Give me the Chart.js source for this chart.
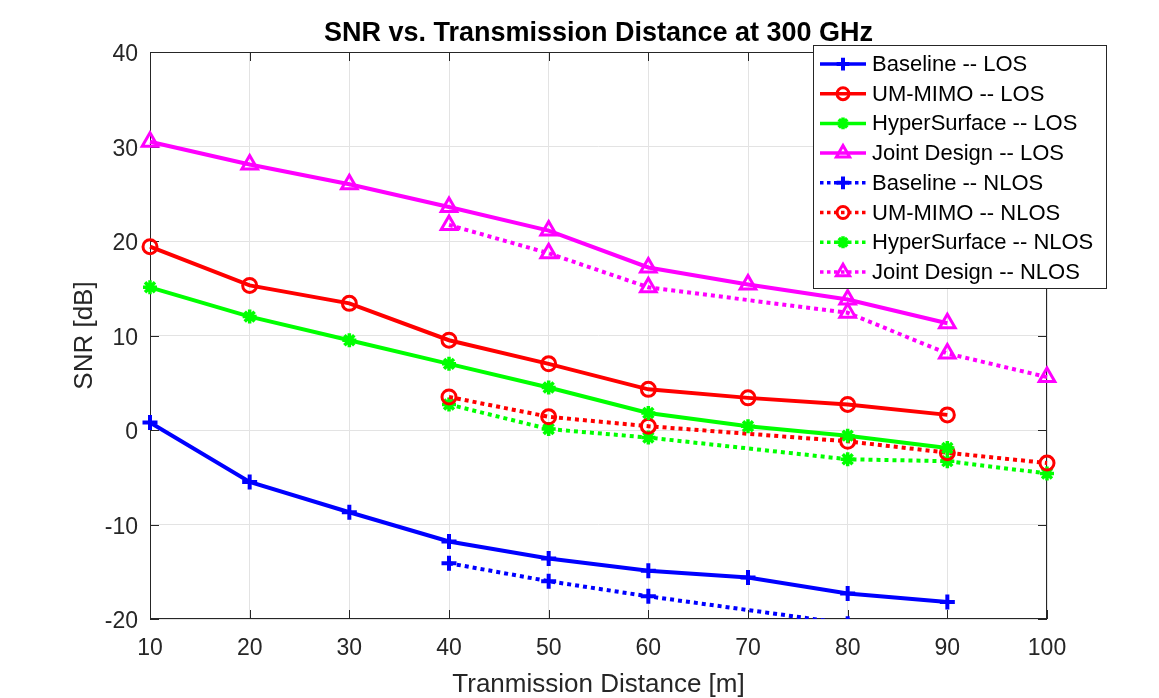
<!DOCTYPE html>
<html>
<head>
<meta charset="utf-8">
<script src="https://cdn.jsdelivr.net/npm/chart.js@4/dist/chart.umd.min.js"></script>
<style>
    body { margin: 0; background: #fff; }
    #wrap { width: 1159px; height: 698px; }
</style>
</head>
<body>
<div id="wrap"><canvas id="snrChart" width="1159" height="698"></canvas></div>
<script>
// distances [m]
const distLOS = [10, 20, 30, 40, 50, 60, 70, 80, 90];
const distNLOS = [40, 50, 60, 80, 90, 100];

// SNR [dB]
const baselineLOS = [0.8, -5.5, -8.7, -11.8, -13.6, -14.9, -15.6, -17.3, -18.2];
const umMimoLOS = [19.4, 15.3, 13.4, 9.5, 7.0, 4.3, 3.4, 2.7, 1.6];
const hyperLOS = [15.1, 12.0, 9.5, 7.0, 4.5, 1.8, 0.4, -0.6, -1.9];
const jointLOS = [30.5, 28.1, 26.0, 23.6, 21.1, 17.2, 15.4, 13.8, 11.3];

const baselineNLOS = [-14.1, -16.0, -17.6, -20.5, -21.6, -22.7];
const umMimoNLOS = [3.5, 1.4, 0.4, -1.2, -2.4, -3.5];
const hyperNLOS = [2.7, 0.1, -0.8, -3.1, -3.3, -4.6];
const jointNLOS = [21.7, 18.7, 15.1, 12.4, 8.1, 5.6];

const xTicks = [10, 20, 30, 40, 50, 60, 70, 80, 90, 100];
const yTicks = [-20, -10, 0, 10, 20, 30, 40];

const FONT = "'Liberation Sans', Arial, Helvetica, sans-serif";
const AXIS_COLOR = "#262626";

const schemes = [
    { name: "Baseline", color: "#0000ff", marker: "cross", radius: 7.5, bw: 4 },
    { name: "UM-MIMO", color: "#ff0000", marker: "circle", radius: 7, bw: 3 },
    { name: "HyperSurface", color: "#00ff00", marker: "star", radius: 7, bw: 3.5 },
    { name: "Joint Design", color: "#ff00ff", marker: "triangle", radius: 9, bw: 3 }
];

function toPoints(xs, ys) {
    return xs.map((x, i) => ({ x: x, y: ys[i] }));
}

function makeDataset(scheme, xs, ys, dotted) {
    return {
        label: scheme.name + (dotted ? " -- NLOS" : " -- LOS"),
        data: toPoints(xs, ys),
        borderColor: scheme.color,
        borderWidth: 4,
        borderDash: dotted ? [4, 4] : [],
        borderCapStyle: "butt",
        pointStyle: scheme.marker,
        pointRadius: scheme.radius,
        pointBorderWidth: scheme.bw,
        pointBorderColor: scheme.color,
        pointBackgroundColor: "rgba(0,0,0,0)",
        pointHoverRadius: scheme.radius,
        tension: 0,
        clip: { left: 15, right: 15, top: 15, bottom: 0 }
    };
}

const losSeries = [baselineLOS, umMimoLOS, hyperLOS, jointLOS];
const nlosSeries = [baselineNLOS, umMimoNLOS, hyperNLOS, jointNLOS];

const datasets = [];
schemes.forEach((s, i) => datasets.push(makeDataset(s, distLOS, losSeries[i], false)));
schemes.forEach((s, i) => datasets.push(makeDataset(s, distNLOS, nlosSeries[i], true)));

// simple marker painter for the legend
function drawMarker(ctx, style, x, y, r) {
    ctx.beginPath();
    if (style === "circle") {
        ctx.arc(x, y, r, 0, Math.PI * 2);
    } else if (style === "triangle") {
        for (let k = 0; k < 3; k++) {
            const a = k * 2 * Math.PI / 3;
            const px = x + Math.sin(a) * r, py = y - Math.cos(a) * r;
            k === 0 ? ctx.moveTo(px, py) : ctx.lineTo(px, py);
        }
        ctx.closePath();
    } else {
        ctx.moveTo(x - r, y); ctx.lineTo(x + r, y);
        ctx.moveTo(x, y - r); ctx.lineTo(x, y + r);
        if (style === "star") {
            const d = r * Math.SQRT1_2;
            ctx.moveTo(x - d, y - d); ctx.lineTo(x + d, y + d);
            ctx.moveTo(x - d, y + d); ctx.lineTo(x + d, y - d);
        }
    }
    ctx.stroke();
}

const frameBox = {
    id: "frameBox",
    beforeDatasetsDraw(chart) {
        const { ctx, chartArea: a, scales } = chart;
        ctx.save();
        ctx.strokeStyle = AXIS_COLOR;
        ctx.lineWidth = 1;
        ctx.strokeRect(a.left + 0.5, a.top + 0.5, a.right - a.left - 1, a.bottom - a.top - 1);
        const tl = 9;
        ctx.beginPath();
        xTicks.forEach(t => {
            const px = Math.round(scales.x.getPixelForValue(t)) + 0.5;
            ctx.moveTo(px, a.bottom); ctx.lineTo(px, a.bottom - tl);
            ctx.moveTo(px, a.top); ctx.lineTo(px, a.top + tl);
        });
        yTicks.forEach(t => {
            const py = Math.round(scales.y.getPixelForValue(t)) + 0.5;
            ctx.moveTo(a.left, py); ctx.lineTo(a.left + tl, py);
            ctx.moveTo(a.right, py); ctx.lineTo(a.right - tl, py);
        });
        ctx.stroke();
        ctx.restore();
    },
    afterDraw(chart) {
        const { ctx, chartArea: a } = chart;
        ctx.save();
        // title
        ctx.fillStyle = "#000";
        ctx.font = "bold 27px " + FONT;
        ctx.textAlign = "center";
        ctx.textBaseline = "middle";
        ctx.fillText("SNR vs. Transmission Distance at 300 GHz", (a.left + a.right) / 2, 34);

        // legend box
        const bx = 813, by = 45, bw = 293, bh = 243;
        ctx.fillStyle = "#fff";
        ctx.fillRect(bx, by, bw, bh);
        ctx.strokeStyle = AXIS_COLOR;
        ctx.lineWidth = 1;
        ctx.strokeRect(bx + 0.5, by + 0.5, bw, bh);

        ctx.font = "22px " + FONT;
        ctx.textAlign = "left";
        chart.data.datasets.forEach((ds, i) => {
            const s = schemes[i % 4];
            const y = 64 + i * 29.7;
            ctx.strokeStyle = s.color;
            ctx.lineWidth = 3.5;
            ctx.setLineDash(ds.borderDash.length ? [3.5, 3.5] : []);
            ctx.beginPath();
            ctx.moveTo(820, y); ctx.lineTo(866, y);
            ctx.stroke();
            ctx.setLineDash([]);
            ctx.lineWidth = s.bw;
            drawMarker(ctx, s.marker, 843, y, s.radius * 0.85);
            ctx.fillStyle = "#000";
            ctx.fillText(ds.label, 872, y + 1);
        });
        ctx.restore();
    }
};

new Chart(document.getElementById("snrChart").getContext("2d"), {
    type: "line",
    data: { datasets: datasets },
    plugins: [frameBox],
    options: {
        responsive: false,
        animation: false,
        layout: { padding: { top: 52, right: 112, left: 0, bottom: 0 } },
        plugins: {
            legend: { display: false },
            tooltip: { enabled: false },
            title: { display: false }
        },
        scales: {
            x: {
                type: "linear",
                min: 10,
                max: 100,
                afterFit: scale => { scale.height = 79; },
                afterBuildTicks: scale => { scale.ticks = xTicks.map(v => ({ value: v })); },
                ticks: { color: AXIS_COLOR, font: { family: FONT, size: 23 }, padding: 16, maxRotation: 0 },
                grid: { color: "#e3e3e3", drawTicks: false },
                border: { display: false },
                title: {
                    display: true,
                    text: "Tranmission Distance [m]",
                    color: AXIS_COLOR,
                    font: { family: FONT, size: 26, lineHeight: 1 },
                    padding: { top: 0, bottom: 0 }
                }
            },
            y: {
                min: -20,
                max: 40,
                afterFit: scale => { scale.width = 150; },
                afterBuildTicks: scale => { scale.ticks = yTicks.map(v => ({ value: v })); },
                ticks: { color: AXIS_COLOR, font: { family: FONT, size: 23 }, padding: 12, labelOffset: 3 },
                grid: { color: "#e3e3e3", drawTicks: false },
                border: { display: false },
                title: {
                    display: true,
                    text: "SNR [dB]",
                    color: AXIS_COLOR,
                    font: { family: FONT, size: 26, lineHeight: 1 },
                    padding: { top: 72, bottom: 0 }
                }
            }
        }
    }
});
</script>
</body>
</html>
